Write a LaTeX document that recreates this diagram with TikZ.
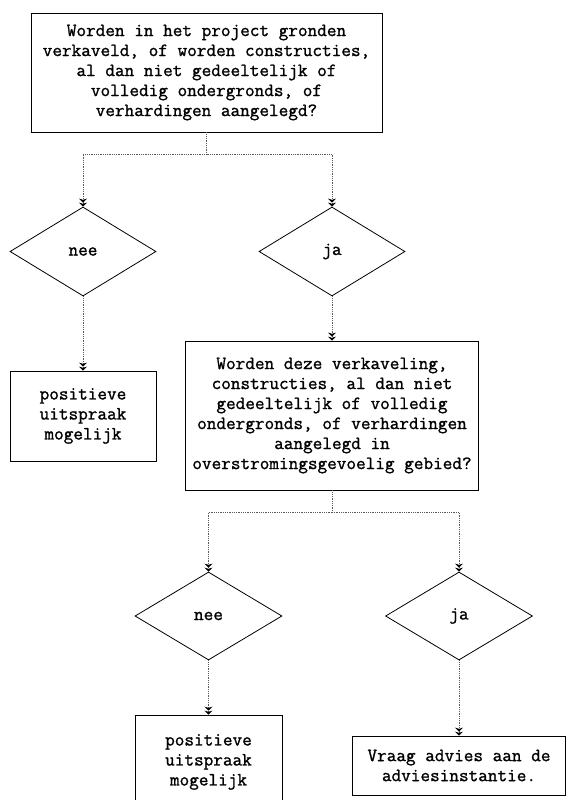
\documentclass[tikz,border=0pt]{standalone}
\usepackage{fontspec}
\newfontfamily\flowfont[FakeBold=1.2]{Latin Modern Mono}
\usetikzlibrary{shapes.geometric,arrows.meta}

\tikzset{
  vraagbox/.style={draw, line width=0.8pt, align=center, inner sep=0pt,
    font=\flowfont\fontsize{18.7}{20}\selectfont},
  keuze/.style={diamond, draw, line width=0.8pt, inner sep=0pt,
    font=\flowfont\fontsize{18.7}{20}\selectfont},
  lijn/.style={densely dotted, line width=0.8pt, black!65},
  pijl/.style={lijn, -{Stealth[length=4pt,width=8pt,black]Stealth[length=4pt,width=8pt,black]}}
}

\begin{document}
\begin{tikzpicture}[x=1pt,y=-1pt]
            \useasboundingbox (0,0) rectangle (568,800);
            % vragen en uitkomsten
            \node[vraagbox, minimum width=351pt, minimum height=119pt] (vraag1) at (206.5,72.5)
              {Worden in het project gronden\\verkaveld, of worden constructies,\\al dan niet gedeeltelijk of\\volledig ondergronds, of\\verhardingen aangelegd?};
            \node[keuze, minimum width=146pt, minimum height=89pt] (nee1) at (83,251.5) {nee};
            \node[keuze, minimum width=146pt, minimum height=89pt] (ja1) at (332,251.5) {ja};
            \node[vraagbox, minimum width=146pt, minimum height=90pt] (positief1) at (83,416)
              {positieve\\uitspraak\\mogelijk};
            \node[vraagbox, minimum width=293pt, minimum height=149pt] (vraag2) at (332,415.5)
              {Worden deze verkaveling,\\constructies, al dan niet\\gedeeltelijk of volledig\\ondergronds, of verhardingen\\aangelegd in\\overstromingsgevoelig gebied?};
            \node[keuze, minimum width=147pt, minimum height=88pt] (nee2) at (208.5,616) {nee};
            \node[keuze, minimum width=147pt, minimum height=88pt] (ja2) at (459,616) {ja};
            \node[vraagbox, minimum width=147pt, minimum height=94pt] (positief2) at (208.5,762)
              {positieve\\uitspraak\\mogelijk};
            \node[vraagbox, minimum width=213pt, minimum height=59pt] (advies) at (459,765.5)
              {Vraag advies aan de\\adviesinstantie.};
            % verbindingen
            \coordinate (splits1) at (206.5,154);
            \coordinate (splits2) at (332,512);
            \draw[lijn] (vraag1) -- (splits1);
            \draw[pijl] (splits1) -| (nee1);
            \draw[pijl] (splits1) -| (ja1);
            \draw[pijl] (nee1) -- (positief1);
            \draw[pijl] (ja1) -- (vraag2);
            \draw[lijn] (vraag2) -- (splits2);
            \draw[pijl] (splits2) -| (nee2);
            \draw[pijl] (splits2) -| (ja2);
            \draw[pijl] (nee2) -- (positief2);
            \draw[pijl] (ja2) -- (advies);
        \end{tikzpicture}
\end{document}
